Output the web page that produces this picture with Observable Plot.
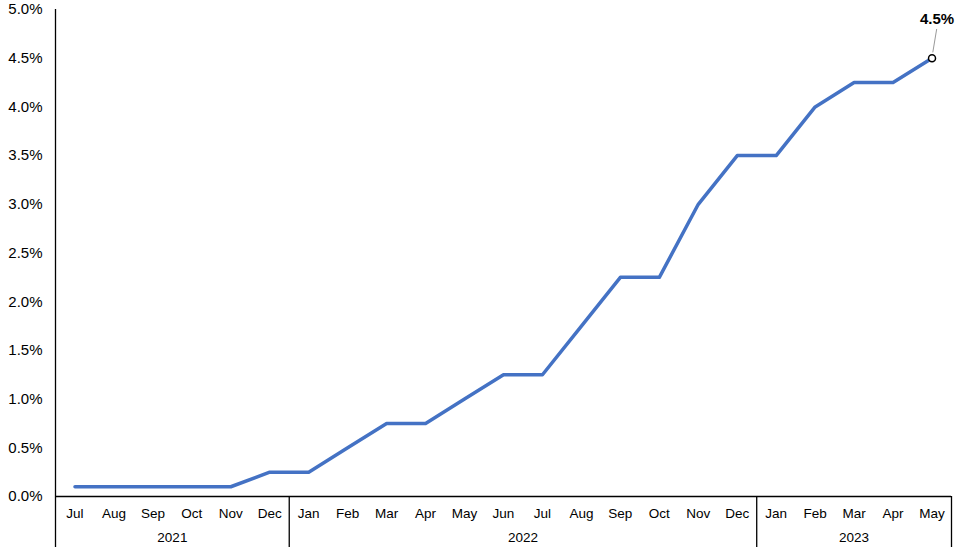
<!DOCTYPE html>
<html>
<head>
<meta charset="utf-8">
<script src="https://cdn.jsdelivr.net/npm/d3@7"></script>
<script src="https://cdn.jsdelivr.net/npm/@observablehq/plot@0.6"></script>
<style>
  html, body { margin: 0; padding: 0; background: #fff; }
  #chart svg { display: block; }
</style>
</head>
<body>
<div id="chart"></div>
<script>
// Data
const months = ["Jul","Aug","Sep","Oct","Nov","Dec","Jan","Feb","Mar","Apr","May","Jun","Jul","Aug","Sep","Oct","Nov","Dec","Jan","Feb","Mar","Apr","May"];
const rates = [0.1,0.1,0.1,0.1,0.1,0.25,0.25,0.5,0.75,0.75,1.0,1.25,1.25,1.75,2.25,2.25,3.0,3.5,3.5,4.0,4.25,4.25,4.5];
const years = ["2021","2022","2023"];
const yearStart = [0, 6, 18];
const yearEnd = [5, 17, 22];
const yTicks = [0,0.5,1,1.5,2,2.5,3,3.5,4,4.5,5];

const data = months.map((m, i) => ({i, month: m, rate: rates[i]}));
const yearData = years.map((y, k) => ({year: y, start: yearStart[k], end: yearEnd[k], mid: (yearStart[k] + yearEnd[k]) / 2}));
const separators = [...yearStart.map(s => s - 0.5), yearEnd[yearEnd.length - 1] + 0.5];
const last = data[data.length - 1];

const chart = Plot.plot({
  width: 960,
  height: 555,
  marginLeft: 55,
  marginRight: 9,
  marginTop: 9,
  marginBottom: 59,
  style: {fontFamily: "'Liberation Sans', Arial, sans-serif", color: "#000", background: "#fff"},
  x: {type: "linear", domain: [-0.5, months.length - 0.5], axis: null},
  y: {domain: [0, 5], axis: null},
  marks: [
    Plot.axisY({ticks: yTicks, tickFormat: d => d.toFixed(1) + "%", tickSize: 0, tickPadding: 13, fontSize: 15, label: null, fill: "#000"}),
    // left axis line extending through category area
    Plot.ruleX([separators[0]], {x: d => d, stroke: "#000", strokeWidth: 1.3, insetBottom: -51}),
    // category separators
    Plot.ruleX(separators.slice(1), {x: d => d, y1: 0, y2: 0, stroke: "#000", strokeWidth: 1.3, insetBottom: -51}),
    Plot.ruleY([0], {stroke: "#000", strokeWidth: 1.3}),
    Plot.line(data, {x: "i", y: "rate", stroke: "#4472C4", strokeWidth: 3.5, strokeLinejoin: "round"}),
    Plot.text(data, {x: "i", y: () => 0, text: "month", dy: 17, fontSize: 13.5, fill: "#000"}),
    Plot.text(yearData, {x: "mid", y: () => 0, text: "year", dy: 41, fontSize: 13.5, fill: "#000"}),
    Plot.link([last], {x1: d => d.i + 0.02, y1: d => d.rate + 0.06, x2: d => d.i + 0.12, y2: d => d.rate + 0.30, stroke: "#999", strokeWidth: 1}),
    Plot.dot([last], {x: "i", y: "rate", r: 3.5, fill: "#fff", stroke: "#000", strokeWidth: 1.5}),
    Plot.text([last], {x: "i", y: "rate", text: d => d.rate.toFixed(1) + "%", dx: 5, dy: -39, fontSize: 15, fontWeight: "bold", fill: "#000"})
  ]
});
document.getElementById("chart").appendChild(chart);
</script>
</body>
</html>
